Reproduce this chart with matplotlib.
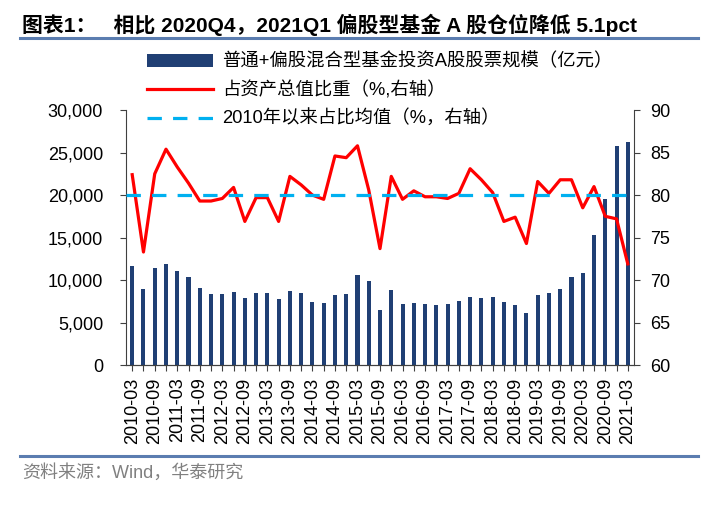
import matplotlib
matplotlib.use("Agg")
import matplotlib.pyplot as plt
import numpy as np
from matplotlib.ticker import FuncFormatter

plt.rcParams['font.family'] = ['Liberation Sans', 'Noto Sans CJK SC', 'DejaVu Sans']

# 季度 2010-03 ~ 2021-03
quarters = [f"{y}-{m:02d}" for y in range(2010, 2022) for m in (3, 6, 9, 12)][:45]

# 普通+偏股混合型基金投资A股股票规模（亿元）
scale = [11700, 8970, 11470, 11860, 11080, 10340, 9040, 8380, 8340, 8610,
         7870, 8420, 8420, 7750, 8770, 8500, 7440, 7360, 8300, 8380,
         10650, 9870, 6420, 8810, 7130, 7320, 7240, 7010, 7200, 7520,
         7990, 7870, 7990, 7440, 7050, 6070, 8220, 8420, 8930, 10340,
         10880, 15270, 19500, 25720, 26190]

# 占资产总值比重（%，右轴）
ratio = [82.4, 73.3, 82.5, 85.4, 83.3, 81.4, 79.3, 79.3, 79.6, 80.9,
         76.9, 79.7, 79.7, 76.9, 82.2, 81.2, 80.0, 79.5, 84.6, 84.4,
         85.8, 80.6, 73.7, 82.2, 79.5, 80.5, 79.8, 79.8, 79.6, 80.2,
         83.1, 81.8, 80.3, 76.9, 77.4, 74.3, 81.6, 80.2, 81.8, 81.8,
         78.5, 81.0, 77.5, 77.2, 71.9]

avg_ratio = 80.0

fig = plt.figure(figsize=(7.18, 5.12), dpi=100)
ax = fig.add_axes([0.1755, 0.287, 0.7075, 0.498])
ax2 = ax.twinx()

x = np.arange(len(quarters))
bars = ax.bar(x, scale, width=0.36, color='#203F74', label='普通+偏股混合型基金投资A股股票规模（亿元）')
l1, = ax2.plot(x, ratio, color='#FF0000', lw=2.3, label='占资产总值比重（%,右轴）')
l2, = ax2.plot([-0.55, len(x) - 0.45], [avg_ratio, avg_ratio], color='#00B0F0', lw=2.3,
               dashes=(4.5, 3.5), label='2010年以来占比均值（%，右轴）')

ax.set_xlim(-0.55, len(x) - 0.45)
ax.set_ylim(0, 30000)
ax.set_yticks(np.arange(0, 30001, 5000))
ax.yaxis.set_major_formatter(FuncFormatter(lambda v, p: f"{int(v):,}"))
ax2.set_ylim(60, 90)
ax2.set_yticks(np.arange(60, 91, 5))

ax.set_xticks(x)
ax.set_xticklabels([q if i % 2 == 0 else '' for i, q in enumerate(quarters)], rotation=90)

for a in (ax, ax2):
    a.spines['top'].set_visible(False)
    for s in a.spines.values():
        s.set_color('#404040')
ax.spines['right'].set_visible(False)
ax2.spines['left'].set_visible(False)
ax.tick_params(axis='y', labelsize=13, length=4.5, pad=12, color='#404040')
ax.tick_params(axis='x', labelsize=13, length=4, pad=5, color='#404040')
ax2.tick_params(axis='y', labelsize=13, length=4.5, pad=7, color='#404040')

fig.legend(handles=[bars, l1, l2], loc='upper left', bbox_to_anchor=(147 / 718, 1 - 53 / 512),
           frameon=False, fontsize=13.2, handlelength=3.6, handletextpad=0.5,
           labelspacing=0.58, borderpad=0, borderaxespad=0)

fig.text(22 / 718, 1 - 25 / 512, '图表1：   相比 2020Q4，2021Q1 偏股型基金 A 股仓位降低 5.1pct',
         fontsize=15, fontweight='bold', va='center', ha='left')
fig.add_artist(plt.Line2D([20 / 718, 698 / 718], [1 - 38 / 512, 1 - 38 / 512],
                          color='#5B7DB0', lw=2.2))
fig.add_artist(plt.Line2D([20 / 718, 698 / 718], [1 - 456 / 512, 1 - 456 / 512],
                          color='#5B7DB0', lw=2.2))
fig.text(22 / 718, 1 - 473 / 512, '资料来源：Wind，华泰研究', fontsize=13,
         color='#808080', va='center', ha='left')

fig.savefig('out.png', dpi=100)
